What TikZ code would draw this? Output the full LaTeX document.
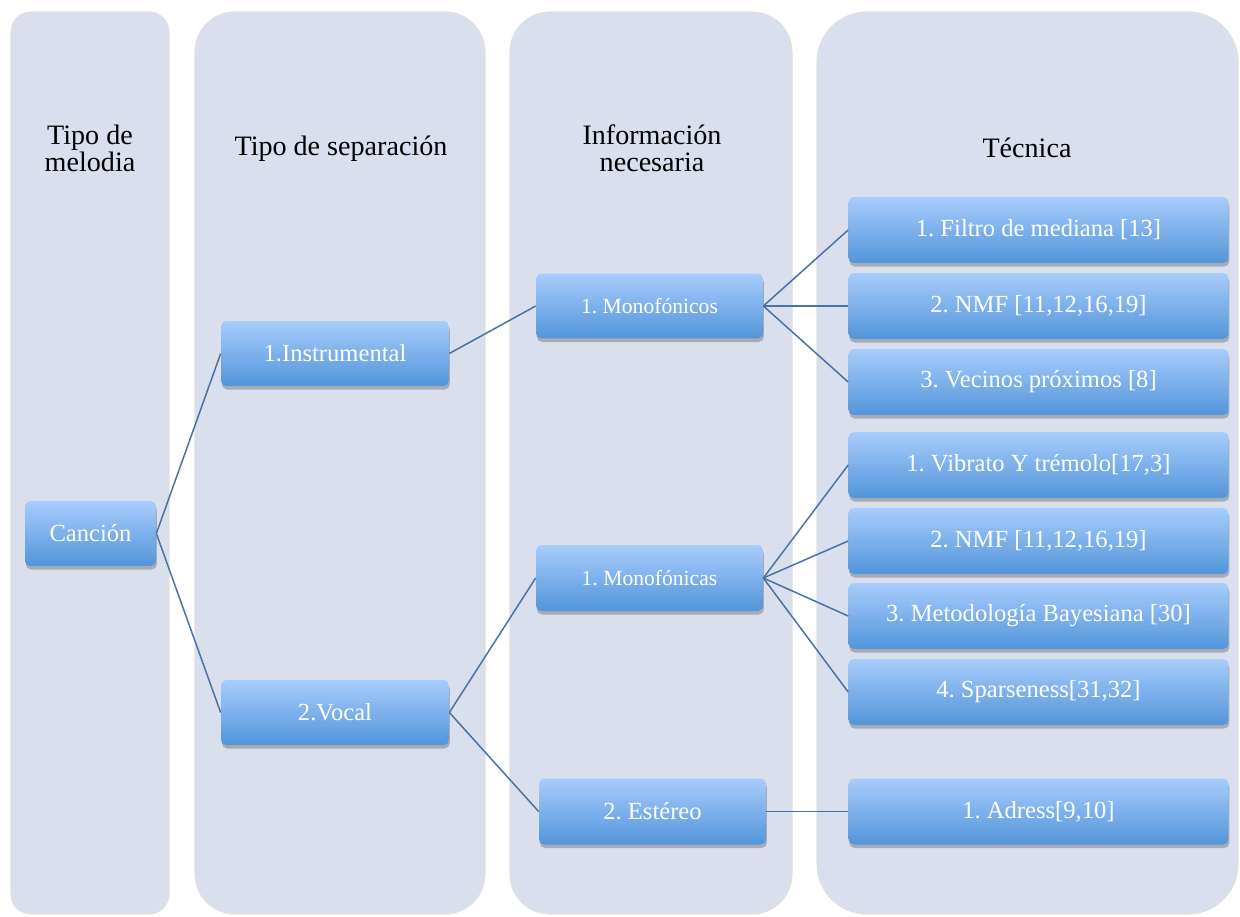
\documentclass[tikz,border=0pt]{standalone}
\usepackage{fontspec}
\setmainfont{Liberation Serif}
\usetikzlibrary{shadows}
\frenchspacing
\definecolor{panelfill}{HTML}{D9DFEC}
\definecolor{boxtop}{HTML}{A8CCFC}
\definecolor{boxbot}{HTML}{5295DA}
\definecolor{linkc}{HTML}{4A72A6}
\tikzset{
  panel/.style={fill=panelfill, draw=black!12, line width=0.6pt},
  header/.style={font=\fontsize{16}{15.3}\selectfont, align=center, text=black},
  box/.style={rectangle, rounded corners=3pt, top color=boxtop, bottom color=boxbot,
    draw=none, text=white, font=\fontsize{14}{15}\selectfont, inner sep=0pt,
    drop shadow={shadow xshift=0.5pt, shadow yshift=-2pt, opacity=0.35, fill=black!70}},
  smallbox/.style={box, font=\fontsize{12.3}{14}\selectfont},
  link/.style={draw=linkc, line width=0.85pt}
}
\begin{document}
\begin{tikzpicture}[x=0.02cm, y=-0.02cm]
\useasboundingbox (0,0) rectangle (1240,916);
% panels
\filldraw[panel, rounded corners=0.4cm] (11,12) rectangle (169,914);
\filldraw[panel, rounded corners=0.8cm] (195,12) rectangle (485,914);
\filldraw[panel, rounded corners=0.8cm] (510,12) rectangle (792,914);
\filldraw[panel, rounded corners=1.0cm] (817,12) rectangle (1238,914);
% headers
\node[header] (h1) at (90,148) {Tipo de\\melodia};
\node[header] (h2) at (341,149) {Tipo de separación};
\node[header] (h3) at (652,148) {Información\\necesaria};
\node[header] (h4) at (1027,148) {Técnica};
% nodes
\node[box, minimum width=2.62cm, minimum height=1.3cm] (can) at (90.5,533.5) {Canción};
\node[box, minimum width=4.56cm, minimum height=1.3cm] (ins) at (335,353.5) {1.Instrumental};
\node[box, minimum width=4.56cm, minimum height=1.3cm] (voc) at (335,712.5) {2.Vocal};
\node[smallbox, minimum width=4.54cm, minimum height=1.3cm] (mono1) at (649.5,306) {1. Monofónicos};
\node[smallbox, minimum width=4.54cm, minimum height=1.32cm] (mono2) at (649.5,578) {1. Monofónicas};
\node[box, minimum width=4.54cm, minimum height=1.32cm] (est) at (652.5,811.5) {2. Estéreo};
\node[box, minimum width=7.6cm, minimum height=1.32cm] (t1) at (1038.5,230) {1. Filtro de mediana [13]};
\node[box, minimum width=7.6cm, minimum height=1.32cm] (t2) at (1038.5,306) {2. NMF [11,12,16,19]};
\node[box, minimum width=7.6cm, minimum height=1.32cm] (t3) at (1038.5,382) {3. Vecinos próximos [8]};
\node[box, minimum width=7.6cm, minimum height=1.32cm] (t4) at (1038.5,465) {1. Vibrato Y trémolo[17,3]};
\node[box, minimum width=7.6cm, minimum height=1.32cm] (t5) at (1038.5,541) {2. NMF [11,12,16,19]};
\node[box, minimum width=7.6cm, minimum height=1.32cm] (t6) at (1038.5,616) {3. Metodología Bayesiana [30]};
\node[box, minimum width=7.6cm, minimum height=1.32cm] (t7) at (1038.5,692) {4. Sparseness[31,32]};
\node[box, minimum width=7.6cm, minimum height=1.32cm] (t8) at (1038.5,811.5) {1. Adress[9,10]};
% links
\draw[link] (can.east) -- (ins.west);
\draw[link] (can.east) -- (voc.west);
\draw[link] (ins.east) -- (mono1.west);
\draw[link] (voc.east) -- (mono2.west);
\draw[link] (voc.east) -- (est.west);
\draw[link] (mono1.east) -- (t1.west);
\draw[link] (mono1.east) -- (t2.west);
\draw[link] (mono1.east) -- (t3.west);
\draw[link] (mono2.east) -- (t4.west);
\draw[link] (mono2.east) -- (t5.west);
\draw[link] (mono2.east) -- (t6.west);
\draw[link] (mono2.east) -- (t7.west);
\draw[link] (est.east) -- (t8.west);
\end{tikzpicture}
\end{document}
